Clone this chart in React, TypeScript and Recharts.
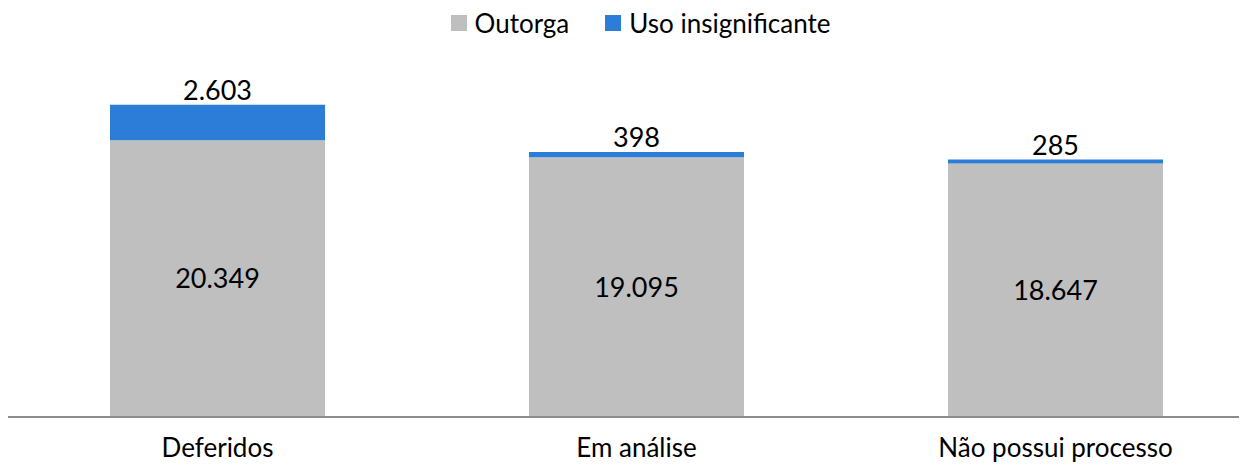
import { Bar, BarChart, LabelList, Legend, XAxis, YAxis } from "recharts";

const categories = ["Deferidos", "Em análise", "Não possui processo"];
const outorga = [20349, 19095, 18647];
const usoInsignificante = [2603, 398, 285];

const data = categories.map((name, i) => ({
  name,
  outorga: outorga[i],
  uso: usoInsignificante[i],
}));

const GRAY = "#BFBFBF";
const BLUE = "#2B7DD7";
const FONT = "Lato, 'Open Sans', sans-serif";

const fmt = (v: unknown) =>
  String(v).replace(/\B(?=(\d{3})+(?!\d))/g, ".");

function LegendBox() {
  const items = [
    { label: "Outorga", color: GRAY },
    { label: "Uso insignificante", color: BLUE },
  ];
  return (
    <div
      style={{
        display: "flex",
        justifyContent: "center",
        alignItems: "center",
        height: 30,
        paddingLeft: 8,
        fontFamily: FONT,
        fontSize: 26,
        color: "#000",
      }}
    >
      {items.map((it, i) => (
        <div
          key={it.label}
          style={{ display: "flex", alignItems: "center", marginLeft: i ? 36 : 0 }}
        >
          <span
            style={{ width: 16, height: 16, background: it.color, marginRight: 8 }}
          />
          <span>{it.label}</span>
        </div>
      ))}
    </div>
  );
}

export default function App() {
  return (
    <div style={{ width: 1239, height: 464, overflow: "hidden" }}>
      <BarChart
        width={1257}
        height={464}
        data={data}
        margin={{ top: 39, right: 0, left: 0, bottom: 5 }}
      >
        <Legend
          verticalAlign="top"
          align="center"
          content={<LegendBox />}
          wrapperStyle={{ top: 0, height: 30 }}
        />
        <XAxis
          dataKey="name"
          height={50}
          tickLine={false}
          tickMargin={16}
          axisLine={{ stroke: "#8C8C8C", strokeWidth: 2 }}
          tick={{ fill: "#000", fontSize: 26, fontFamily: FONT }}
        />
        <YAxis hide domain={[0, 25000]} />
        <Bar
          dataKey="outorga"
          stackId="a"
          fill={GRAY}
          barSize={215}
          isAnimationActive={false}
        >
          <LabelList
            dataKey="outorga"
            position="center"
            formatter={fmt}
            style={{ fill: "#000", fontSize: 27, fontFamily: FONT }}
          />
        </Bar>
        <Bar
          dataKey="uso"
          stackId="a"
          fill={BLUE}
          barSize={215}
          isAnimationActive={false}
        >
          <LabelList
            dataKey="uso"
            position="top"
            offset={5}
            formatter={fmt}
            style={{ fill: "#000", fontSize: 27, fontFamily: FONT }}
          />
        </Bar>
      </BarChart>
    </div>
  );
}
